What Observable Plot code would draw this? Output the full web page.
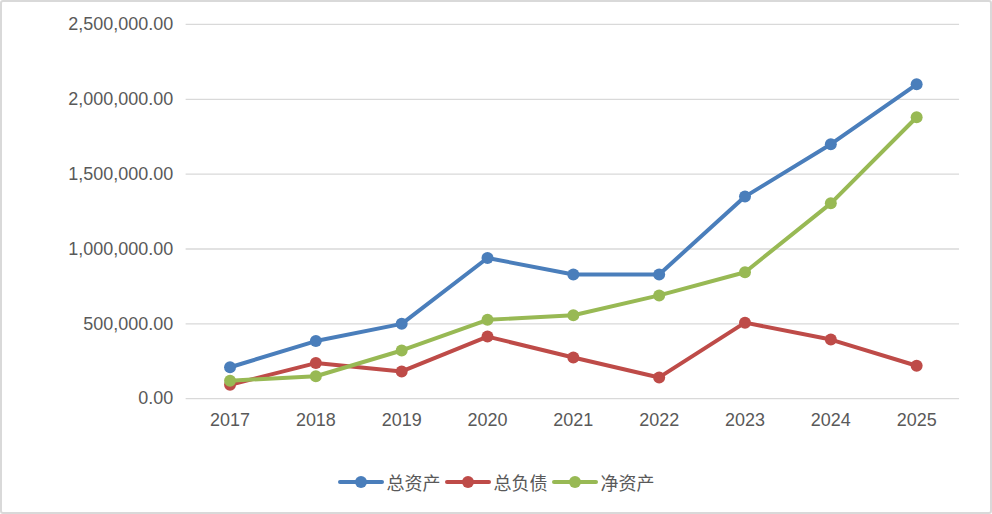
<!DOCTYPE html>
<html>
<head>
<meta charset="utf-8">
<script src="https://cdn.jsdelivr.net/npm/d3@7"></script>
<script src="https://cdn.jsdelivr.net/npm/@observablehq/plot@0.6"></script>
<style>
  html, body { margin: 0; padding: 0; background: #fff; }
  #frame { width: 992px; height: 514px; box-sizing: border-box; border: 2px solid #d9d9d9; border-radius: 3px; position: relative; overflow: hidden; }
  #chart { position: absolute; left: -2px; top: -2px; }
  #legend { position: absolute; left: 0; right: 0; top: 467px; display: flex; justify-content: center; align-items: center; font-family: "Noto Sans CJK SC", sans-serif; font-size: 18px; color: #595959; }
  .item { display: flex; align-items: center; margin: 0 2px; }
  .item svg { margin-right: 3px; }
</style>
</head>
<body>
<div id="frame"><div id="chart"></div><div id="legend"></div></div>
<script>
const years = ["2017","2018","2019","2020","2021","2022","2023","2024","2025"];
const totalAssets = [210000, 385000, 500000, 940000, 830000, 830000, 1350000, 1700000, 2100000];
const totalLiabilities = [93000, 238000, 182000, 415000, 275000, 142000, 508000, 395000, 220000];
const netAssets = [120000, 150000, 322000, 527000, 557000, 690000, 845000, 1305000, 1880000];
const seriesNames = ["总资产", "总负债", "净资产"];
const seriesColors = ["#4a7ebb", "#be4b48", "#98b954"];
const yTicks = [0, 500000, 1000000, 1500000, 2000000, 2500000];

const seriesValues = [totalAssets, totalLiabilities, netAssets];
const data = [];
seriesNames.forEach((s, i) => years.forEach((y, j) => data.push({series: s, year: y, value: seriesValues[i][j]})));

const chart = Plot.plot({
  width: 992,
  height: 441,
  marginLeft: 186,
  marginRight: 31,
  marginTop: 24,
  marginBottom: 42,
  style: { fontFamily: "'Liberation Sans', Arial, sans-serif", fontSize: "18px", color: "#595959", background: "transparent" },
  x: { type: "point", domain: years, padding: 0.5, label: null },
  y: { domain: [0, 2500000], ticks: yTicks, label: null },
  color: { domain: seriesNames, range: seriesColors },
  marks: [
    Plot.gridY(yTicks, { stroke: "#d9d9d9", strokeOpacity: 1, strokeWidth: 1.3 }),
    Plot.axisY(yTicks, { tickFormat: d3.format(",.2f"), tickSize: 0, tickPadding: 13, fontSize: 18, fill: "#595959" }),
    Plot.axisX({ tickSize: 0, tickPadding: 15, fontSize: 18, fill: "#595959" }),
    Plot.line(data, { x: "year", y: "value", z: "series", stroke: "series", strokeWidth: 4, curve: "linear" }),
    Plot.dot(data, { x: "year", y: "value", fill: "series", r: 6 })
  ]
});
document.getElementById("chart").appendChild(chart);

const legend = document.getElementById("legend");
seriesNames.forEach((s, i) => {
  const item = document.createElement("div");
  item.className = "item";
  item.innerHTML = `<svg width="46" height="14"><line x1="2" x2="44" y1="7" y2="7" stroke="${seriesColors[i]}" stroke-width="4" stroke-linecap="round"/><circle cx="23" cy="7" r="6" fill="${seriesColors[i]}"/></svg><span>${s}</span>`;
  legend.appendChild(item);
});
</script>
</body>
</html>
